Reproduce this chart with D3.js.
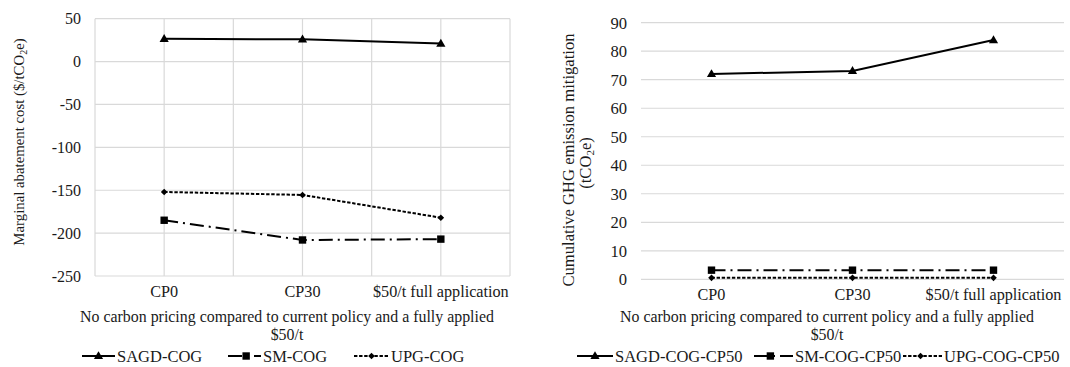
<!DOCTYPE html>
<html>
<head>
<meta charset="utf-8">
<script src="https://cdn.jsdelivr.net/npm/d3@7"></script>
<style>
  html, body { margin: 0; padding: 0; background: #fff; }
  svg, svg text { font-family: "Liberation Serif", "Times New Roman", serif; }
</style>
</head>
<body>
<svg id="chart" width="1070" height="367"></svg>
<script>
// Scenario categories shared by both panels
const categories = ["CP0", "CP30", "$50/t full application"];

// Left panel: marginal abatement cost ($/tCO2e)
const costTicks = [50, 0, -50, -100, -150, -200, -250];
const sagdCost = [26.5, 26, 21];
const smCost = [-185, -208, -207];
const upgCost = [-152, -155.5, -182];
const costSeriesNames = ["SAGD-COG", "SM-COG", "UPG-COG"];

// Right panel: cumulative GHG emission mitigation (tCO2e)
const mitigationTicks = [0, 10, 20, 30, 40, 50, 60, 70, 80, 90];
const sagdMitigation = [72, 73.1, 83.9];
const smMitigation = [3.2, 3.2, 3.2];
const upgMitigation = [0.5, 0.5, 0.5];
const mitigationSeriesNames = ["SAGD-COG-CP50", "SM-COG-CP50", "UPG-COG-CP50"];

const xTitleLines = ["No carbon pricing compared to current policy and a fully applied", "$50/t"];

const FONT = "Liberation Serif";
const svg = d3.select("#chart");

// line styles per series: solid / long-dash-dot / short-dash
const styles = [
  { dash: null, marker: "triangle" },
  { dash: "14,5,2,5", marker: "square" },
  { dash: "3.4,1.7", marker: "diamond" }
];

function markerPath(kind) {
  if (kind === "triangle") return "M0,-4.8L4.6,3.1L-4.6,3.1Z";
  if (kind === "square") return "M-3.7,-3.7H3.7V3.7H-3.7Z";
  return "M0,-3.3L3.3,0L0,3.3L-3.3,0Z";
}

function drawPanel(cfg) {
  const g = svg.append("g");
  const x = d3.scaleBand().domain(categories).range([cfg.left, cfg.right]).paddingInner(0).paddingOuter(0);
  const y = d3.scaleLinear().domain(cfg.domain).range([cfg.bottom, cfg.top]);
  const cx = c => x(c) + x.bandwidth() / 2;

  // horizontal gridlines
  g.append("g").selectAll("line").data(cfg.ticks).join("line")
    .attr("x1", cfg.left).attr("x2", cfg.right)
    .attr("y1", d => y(d)).attr("y2", d => y(d))
    .attr("stroke", "#d9d9d9").attr("stroke-width", 1.2);

  // vertical gridlines at category edges and centres
  if (cfg.vgrid) {
    const vx = [];
    categories.forEach(c => { vx.push(x(c)); vx.push(cx(c)); });
    vx.push(cfg.right);
    g.append("g").selectAll("line").data(vx).join("line")
      .attr("x1", d => d).attr("x2", d => d)
      .attr("y1", cfg.top).attr("y2", cfg.bottom)
      .attr("stroke", "#d9d9d9").attr("stroke-width", 1.2);
  }

  // y axis labels
  const ya = g.append("g").attr("transform", `translate(${cfg.left - 14},0)`)
    .call(d3.axisLeft(y).tickValues(cfg.ticks).tickSize(0).tickPadding(0).tickFormat(d => String(d)));
  ya.attr("font-family", FONT);
  ya.select(".domain").remove();
  ya.selectAll("text").attr("font-size", cfg.tickSize).attr("fill", "#1a1a1a");

  // category labels
  const xa = g.append("g").attr("transform", `translate(0,${cfg.bottom + 9})`)
    .call(d3.axisBottom(x).tickSize(0).tickPadding(0));
  xa.attr("font-family", FONT);
  xa.select(".domain").remove();
  xa.selectAll("text").attr("font-size", 16.2).attr("fill", "#1a1a1a");

  // x axis title
  g.append("g").selectAll("text").data(xTitleLines).join("text")
    .attr("x", cfg.titleX).attr("y", (d, i) => 322 + i * 17.5)
    .attr("text-anchor", "middle").attr("font-size", 15.9).attr("fill", "#1a1a1a")
    .text(d => d);

  // series lines and markers
  cfg.series.forEach((vals, i) => {
    const st = styles[i];
    const pts = categories.map((c, j) => [cx(c), y(vals[j])]);
    g.append("path").attr("d", d3.line()(pts))
      .attr("fill", "none").attr("stroke", "#000").attr("stroke-width", 2)
      .attr("stroke-dasharray", st.dash);
    g.append("g").selectAll("path").data(pts).join("path")
      .attr("transform", d => `translate(${d[0]},${d[1]})`)
      .attr("d", markerPath(st.marker)).attr("fill", "#000");
  });

  // legend
  cfg.names.forEach((name, i) => {
    const st = styles[i];
    const lx = cfg.legendX[i], len = cfg.legendLen[i], ly = 356;
    g.append("line").attr("x1", lx).attr("x2", lx + len).attr("y1", ly).attr("y2", ly)
      .attr("stroke", "#000").attr("stroke-width", 2).attr("stroke-dasharray", st.dash);
    g.append("path").attr("transform", `translate(${lx + len * cfg.markerFrac[i]},${ly})`)
      .attr("d", markerPath(st.marker)).attr("fill", "#000");
    g.append("text").attr("x", lx + len + 2).attr("y", ly + 5.5)
      .attr("font-size", 16.5).attr("fill", "#1a1a1a").text(name);
  });

  return g;
}

// Left panel
const left = drawPanel({
  left: 95, right: 510, top: 18.7, bottom: 276,
  domain: [-250, 50], ticks: costTicks, vgrid: true, tickSize: 16,
  series: [sagdCost, smCost, upgCost], names: costSeriesNames,
  titleX: 287, legendX: [82, 228, 354], legendLen: [33, 33, 35], markerFrac: [0.5, 0.55, 0.5]
});
left.append("text")
  .attr("transform", "translate(24,142) rotate(-90)")
  .attr("text-anchor", "middle").attr("font-size", 14.8).attr("fill", "#1a1a1a")
  .call(t => {
    t.append("tspan").text("Marginal abatement cost ($/tCO");
    t.append("tspan").attr("font-size", 10).attr("dy", 3).text("2");
    t.append("tspan").attr("dy", -3).text("e)");
  });

// Right panel
const right = drawPanel({
  left: 641, right: 1064, top: 22.7, bottom: 279.3,
  domain: [0, 90], ticks: mitigationTicks, vgrid: false, tickSize: 16.6,
  series: [sagdMitigation, smMitigation, upgMitigation], names: mitigationSeriesNames,
  titleX: 827, legendX: [577, 754, 903], legendLen: [36, 39, 39], markerFrac: [0.5, 0.42, 0.45]
});
right.append("text")
  .attr("transform", "translate(574,160) rotate(-90)")
  .attr("text-anchor", "middle").attr("font-size", 16.6).attr("fill", "#1a1a1a")
  .text("Cumulative GHG emission mitigation");
right.append("text")
  .attr("transform", "translate(591,163) rotate(-90)")
  .attr("text-anchor", "middle").attr("font-size", 16.6).attr("fill", "#1a1a1a")
  .call(t => {
    t.append("tspan").text("(tCO");
    t.append("tspan").attr("font-size", 11).attr("dy", 3).text("2");
    t.append("tspan").attr("dy", -3).text("e)");
  });
</script>
</body>
</html>
